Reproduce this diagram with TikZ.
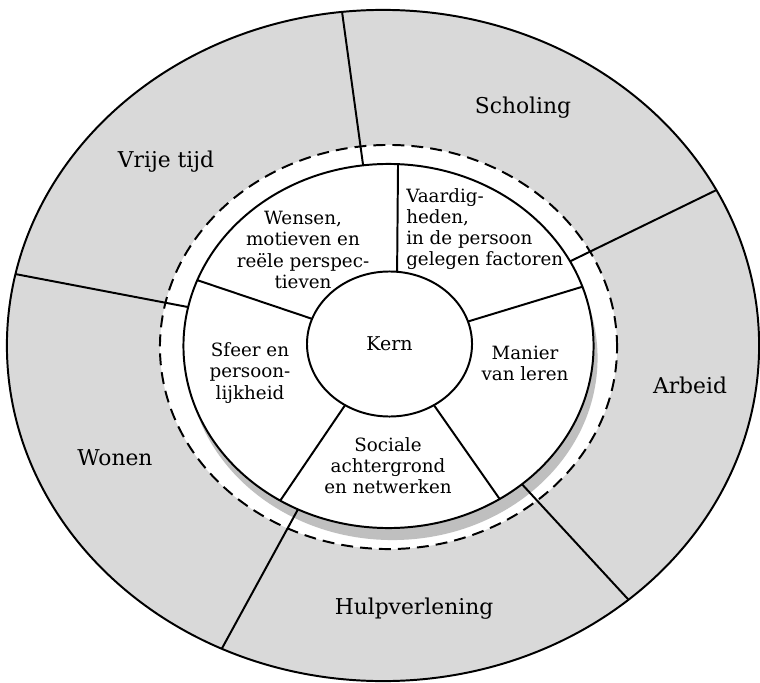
\documentclass[tikz,border=0pt]{standalone}
\usepackage{fontspec}
\setmainfont{DejaVu Serif}
\usetikzlibrary{shapes.geometric}

\begin{document}
\begin{tikzpicture}[x=0.025cm, y=-0.025cm,
    ring/.style={ellipse, draw, line width=1.4pt, inner sep=0pt, outer sep=0pt},
    divider/.style={line width=1.4pt},
    area/.style={inner sep=0pt, font=\fontsize{15.5}{18}\selectfont},
    factor/.style={align=center, inner sep=0pt, font=\fontsize{13}{15}\selectfont}]
  \useasboundingbox (0,0) rectangle (760,682);
  % Rings
  \node (outer) [ring, fill=black!15, minimum width=18.8cm, minimum height=16.775cm] at (383,345.5) {};
  \node (dash) [ring, fill=white, dash pattern=on 8.5pt off 5pt, minimum width=11.425cm, minimum height=10.1cm] at (388.5,347) {};
  \node (shadow) [ellipse, fill=black!25, inner sep=0pt, minimum width=10.25cm, minimum height=9.1cm] at (392.5,358) {};
  \node (inner) [ring, fill=white, minimum width=10.25cm, minimum height=9.1cm] at (388.5,346) {};
  \node (kern) [ring, fill=white, minimum width=4.125cm, minimum height=3.625cm, font=\fontsize{13.5}{15}\selectfont] at (389.5,344) {Kern};
  % Outer dividers
  \draw [divider] (inner.98.3) -- (outer.97.4);
  \draw [divider] (inner.25.6) -- (outer.25.1);
  \draw [divider] (inner.314.5) -- (outer.314.7);
  \draw [divider] (inner.241.8) -- (outer.242.6);
  \draw [divider] (inner.169.9) -- (outer.169.7);
  % Inner dividers
  \draw [divider] (kern.84.9) -- (inner.87.6);
  \draw [divider] (kern.16.8) -- (inner.17.5);
  \draw [divider] (kern.306) -- (inner.306.3);
  \draw [divider] (kern.234.6) -- (inner.235.1);
  \draw [divider] (kern.162.1) -- (inner.161.9);
  % Labels
  \node (vrije) [area] at (166,162) {Vrije tijd};
  \node (scholing) [area] at (523,108) {Scholing};
  \node (arbeid) [area] at (690,385) {Arbeid};
  \node (wonen) [area] at (115,458) {Wonen};
  \node (hulp) [area] at (414,609) {Hulpverlening};
  \node (wensen) [factor] at (303,250) {Wensen,\\motieven en\\reële perspec-\\tieven};
  \node (vaardig) [factor, align=left, anchor=west] at (406,229) {Vaardig-\\heden,\\in de persoon\\gelegen factoren};
  \node (manier) [factor] at (525,363) {Manier\\van leren};
  \node (sociaal) [factor] at (388,466) {Sociale\\achtergrond\\en netwerken};
  \node (sfeer) [factor] at (250,373) {Sfeer en\\persoon-\\lijkheid};
\end{tikzpicture}
\end{document}
